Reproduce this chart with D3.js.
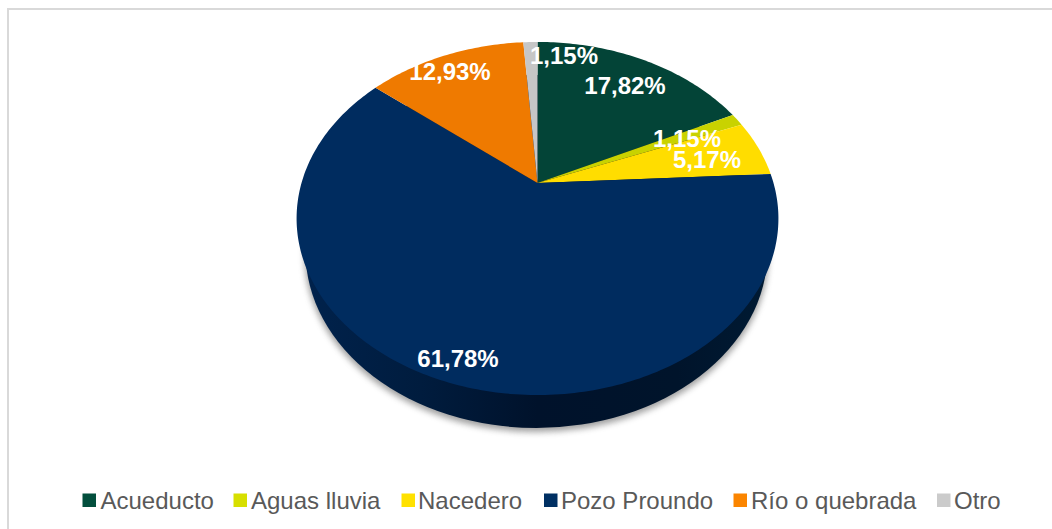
<!DOCTYPE html>
<html><head><meta charset="utf-8">
<script src="https://cdn.jsdelivr.net/npm/d3@7/dist/d3.min.js"></script>
<style>html,body{margin:0;padding:0;background:#fff}svg{display:block}</style></head>
<body><svg id="c" width="1052" height="529"></svg>
<script>
const categories = ["Acueducto","Aguas lluvia","Nacedero","Pozo Proundo","Río o quebrada","Otro"];
const shares = [17.82,1.15,5.17,61.78,12.93,1.15];
const sliceColors = ["#034437","#c9d200","#ffdd00","#002c5f","#ef7a00","#c6c6c6"];
const legendColors = ["#034f3d","#d7df00","#ffe100","#003063","#fb8500","#cbcbcb"];
const labelText = ["17,82%","1,15%","5,17%","61,78%","12,93%","1,15%"];
const labelPos = [[625,85],[687,138],[707,159],[458,358],[450,71],[564,55]];
const legendX = [82.5,233.5,401.5,544,733.5,937];
const legendTextX = [100.5,251,418,561,751,954];

const svg=d3.select("#c");
const defs=svg.append("defs");
defs.append("filter").attr("id","sh").attr("x","-10%").attr("y","-10%").attr("width","120%").attr("height","125%")
  .append("feGaussianBlur").attr("stdDeviation",3);
const grad=defs.append("linearGradient").attr("id","wall").attr("gradientUnits","userSpaceOnUse")
  .attr("x1",305).attr("x2",770).attr("y1",0).attr("y2",0);
[[0,"#00224c"],[0.25,"#001c3e"],[0.5,"#00122b"],[0.8,"#00142b"],[1,"#001a33"]].forEach(s=>
  grad.append("stop").attr("offset",s[0]).attr("stop-color",s[1]));

svg.append("path").attr("d","M8,529V9H1052").attr("fill","none").attr("stroke","#d9d9d9").attr("stroke-width",2);

// perspective view of a tilted circular pie
const cx=537.5,cy=183,k=-0.201,A=169.4,B=236;
const proj=t=>{const u=Math.sin(t),v=-Math.cos(t),d=1+k*v;return [cx+B*u/d,cy+A*v/d];};
const line=d3.line();
const arcPts=(a,b)=>d3.range(0,1.0001,1/Math.max(2,Math.ceil((b-a)*60))).map(f=>proj(a+(b-a)*f));
const pie=d3.pie().sort(null).value(d=>d)(shares);

// base of the extruded disc, seen below the top face
const base={cx:536.5,cy:251.5,rx:231,ry:176.5};
svg.append("ellipse").attr("cx",base.cx).attr("cy",base.cy+3).attr("rx",base.rx+1).attr("ry",base.ry+1)
  .attr("fill","#777").attr("opacity",.7).attr("filter","url(#sh)");
svg.append("ellipse").attr("cx",base.cx).attr("cy",base.cy).attr("rx",base.rx).attr("ry",base.ry).attr("fill","url(#wall)");

svg.selectAll("path.slice").data(pie).join("path").attr("class","slice")
  .attr("d",d=>line([[cx,cy]].concat(arcPts(d.startAngle,d.endAngle)))+"Z")
  .attr("fill",(d,i)=>sliceColors[i]);

svg.selectAll("text.lab").data(labelText).join("text").attr("class","lab")
  .attr("x",(d,i)=>labelPos[i][0]).attr("y",(d,i)=>labelPos[i][1])
  .attr("text-anchor","middle").attr("dominant-baseline","central")
  .attr("font-family","Liberation Sans").attr("font-weight","bold").attr("font-size",24)
  .attr("fill","#fff").text(d=>d);

const lg=svg.selectAll("g.lg").data(categories).join("g").attr("class","lg");
lg.append("rect").attr("x",(d,i)=>legendX[i]).attr("y",493.5).attr("width",13.5).attr("height",13.5).attr("fill",(d,i)=>legendColors[i]);
lg.append("text").attr("x",(d,i)=>legendTextX[i]).attr("y",509).attr("font-family","Liberation Sans").attr("font-size",24)
  .attr("fill","#595959").text(d=>d);
</script></body></html>
